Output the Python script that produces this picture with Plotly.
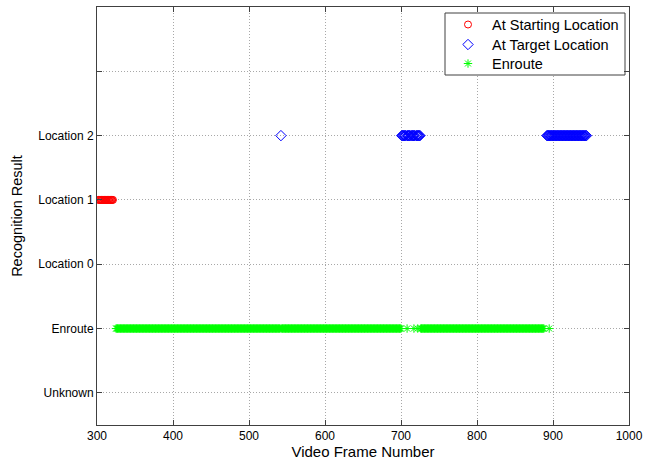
import plotly.graph_objects as go

# Category positions and labels
y_tick_vals = [0, 1, 2, 3, 4, 5]
y_tick_text = ["Unknown", "Enroute", "Location 0", "Location 1", "Location 2", ""]
x_tick_vals = [300, 400, 500, 600, 700, 800, 900, 1000]

# Runs of frames (start, end inclusive)
start_runs = [(302, 321)]
target_runs = [(542, 542), (701, 706), (708, 712), (714, 718), (720, 725), (892, 944)]
enroute_runs = [(325, 541), (543, 700), (708, 708), (717, 717), (722, 722), (726, 888), (895, 895)]

start_level = 3
target_level = 4
enroute_level = 1

series_names = ["At Starting Location", "At Target Location", "Enroute"]
series_colors = ["#ff0000", "#0000ff", "#00ff00"]
series_symbols = ["circle-open", "diamond-open", "asterisk-open"]
series_sizes = [7, 8, 7]

X_RANGE = [300, 1000]
Y_RANGE = [-0.5, 6]


def expand(runs):
    out = []
    for a, b in runs:
        out.extend(range(a, b + 1))
    return out


start_x = expand(start_runs)
target_x = expand(target_runs)
enroute_x = expand(enroute_runs)

xs = [start_x, target_x, enroute_x]
levels = [start_level, target_level, enroute_level]

fig = go.Figure()
for x, lv, name, col, sym, sz in zip(xs, levels, series_names, series_colors, series_symbols, series_sizes):
    fig.add_trace(go.Scatter(x=x, y=[lv] * len(x), mode="markers", name=name, showlegend=False,
                             marker=dict(symbol=sym, size=sz, color=col, line=dict(width=1, color=col))))

# Legend drawn in an overlay coordinate system (fractions of the plot area)
PX_L, PX_R, PX_T, PX_B = 97, 629, 7, 425


def fx(px):
    return (px - PX_L) / (PX_R - PX_L)


def fy(py):
    return (PX_B - py) / (PX_B - PX_T)


leg_rows_py = [24.5, 44.5, 63.5]
for name, col, sym, sz, py in zip(series_names, series_colors, series_symbols, series_sizes, leg_rows_py):
    fig.add_trace(go.Scatter(x=[fx(468)], y=[fy(py)], xaxis="x2", yaxis="y2", mode="markers",
                             showlegend=False, hoverinfo="skip",
                             marker=dict(symbol=sym, size=sz, color=col, line=dict(width=1, color=col))))
    fig.add_annotation(x=fx(490), y=fy(py), xref="x2", yref="y2", text=name, showarrow=False,
                       xanchor="left", yanchor="middle",
                       font=dict(family="Arial, Liberation Sans", size=14.5, color="#000"))


def dx(px):
    return X_RANGE[0] + fx(px) * (X_RANGE[1] - X_RANGE[0])


def dy(py):
    return Y_RANGE[0] + fy(py) * (Y_RANGE[1] - Y_RANGE[0])


fig.add_shape(type="rect", xref="x", yref="y", x0=dx(445), x1=dx(625), y0=dy(75), y1=dy(13),
              line=dict(color="#404040", width=1), fillcolor="white", layer="between")

axis_common = dict(showline=True, linecolor="#404040", linewidth=1, mirror="ticks",
                   ticks="inside", ticklen=5, tickcolor="#404040",
                   showgrid=True, gridcolor="#a8a8a8", griddash="1px,2px", gridwidth=1,
                   zeroline=False, tickfont=dict(family="Arial, Liberation Sans", size=12, color="#000"))

fig.update_layout(
    width=658, height=466,
    margin=dict(l=97, r=29, t=7, b=41),
    paper_bgcolor="white", plot_bgcolor="white",
    font=dict(family="Arial, Liberation Sans", color="#000"),
    xaxis=dict(range=X_RANGE, tickvals=x_tick_vals,
               title=dict(text="Video Frame Number", font=dict(size=15), standoff=4), **axis_common),
    yaxis=dict(range=Y_RANGE, tickvals=y_tick_vals, ticktext=y_tick_text,
               title=dict(text="Recognition Result", font=dict(size=14.5), standoff=12), **axis_common),
    xaxis2=dict(overlaying="x", range=[0, 1], visible=False, fixedrange=True),
    yaxis2=dict(overlaying="y", range=[0, 1], visible=False, fixedrange=True),
    showlegend=False,
)

fig.write_html("out.html")
